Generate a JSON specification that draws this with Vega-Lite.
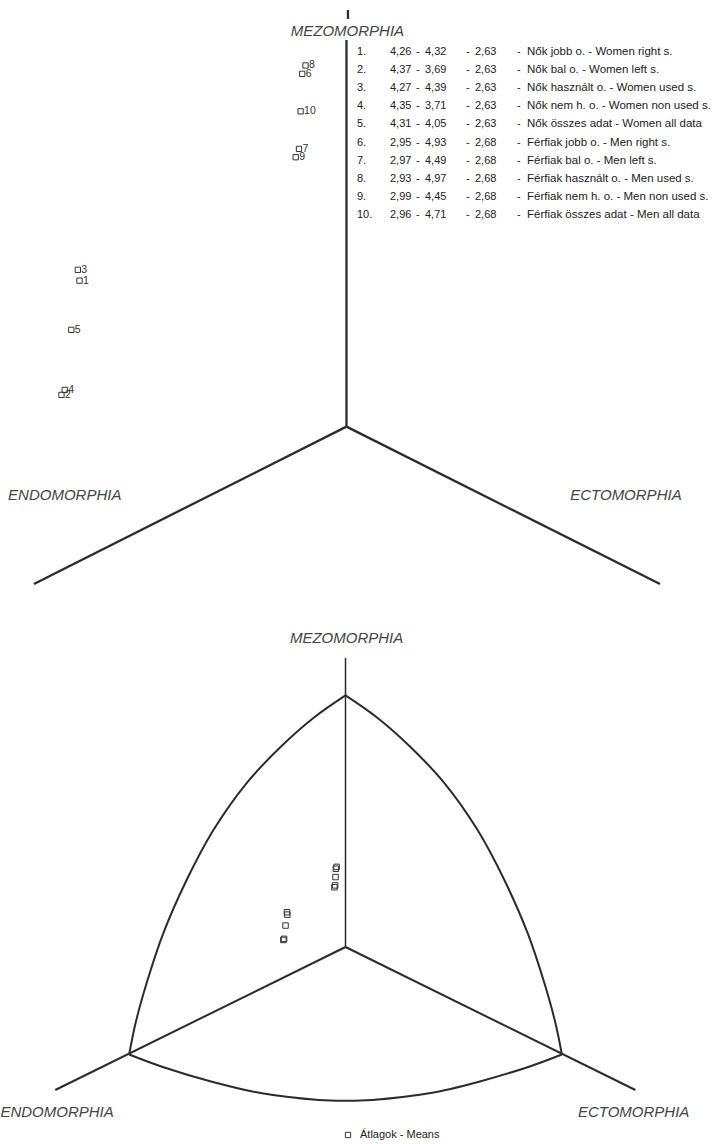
{
  "$schema": "https://vega.github.io/schema/vega-lite/v6.json",
  "padding": 0,
  "spacing": 0,
  "bounds": "flush",
  "config": {
    "view": {"stroke": null},
    "text": {"font": "Liberation Sans"},
    "locale": {"number": {"decimal": ",", "thousands": " ", "grouping": [3], "currency": ["", " Ft"]}}
  },
  "datasets": {
    "soma": [
      {"id": 1, "num": "1.", "endo": 4.26, "meso": 4.32, "ecto": 2.63, "X": -1.63, "Y": 1.75, "label": "Nők jobb o. - Women right s."},
      {"id": 2, "num": "2.", "endo": 4.37, "meso": 3.69, "ecto": 2.63, "X": -1.74, "Y": 0.38, "label": "Nők bal o. - Women left s."},
      {"id": 3, "num": "3.", "endo": 4.27, "meso": 4.39, "ecto": 2.63, "X": -1.64, "Y": 1.88, "label": "Nők használt o. - Women used s."},
      {"id": 4, "num": "4.", "endo": 4.35, "meso": 3.71, "ecto": 2.63, "X": -1.72, "Y": 0.44, "label": "Nők nem h. o. - Women non used s."},
      {"id": 5, "num": "5.", "endo": 4.31, "meso": 4.05, "ecto": 2.63, "X": -1.68, "Y": 1.16, "label": "Nők összes adat - Women all data"},
      {"id": 6, "num": "6.", "endo": 2.95, "meso": 4.93, "ecto": 2.68, "X": -0.27, "Y": 4.23, "label": "Férfiak jobb o. - Men right s."},
      {"id": 7, "num": "7.", "endo": 2.97, "meso": 4.49, "ecto": 2.68, "X": -0.29, "Y": 3.33, "label": "Férfiak bal o. - Men left s."},
      {"id": 8, "num": "8.", "endo": 2.93, "meso": 4.97, "ecto": 2.68, "X": -0.25, "Y": 4.33, "label": "Férfiak használt o. - Men used s."},
      {"id": 9, "num": "9.", "endo": 2.99, "meso": 4.45, "ecto": 2.68, "X": -0.31, "Y": 3.23, "label": "Férfiak nem h. o. - Men non used s."},
      {"id": 10, "num": "10.", "endo": 2.96, "meso": 4.71, "ecto": 2.68, "X": -0.28, "Y": 3.78, "label": "Férfiak összes adat - Men all data"}
    ],
    "topFrame": [
      {"x": 0, "y": 0, "x2": 0, "y2": 4.635},
      {"x": 0, "y": 0, "x2": -1.908, "y2": -1.887},
      {"x": 0, "y": 0, "x2": 1.914, "y2": -1.887},
      {"x": 0.009, "y": 4.887, "x2": 0.009, "y2": 4.995}
    ],
    "topLabels": [
      {"text": "MEZOMORPHIA", "X": 0.006, "Y": 4.743},
      {"text": "ENDOMORPHIA", "X": -1.72, "Y": -0.82},
      {"text": "ECTOMORPHIA", "X": 1.706, "Y": -0.82}
    ],
    "bottomVertical": [
      {"x": 0, "y": 0, "x2": 0, "y2": 15.62}
    ],
    "bottomArms": [
      {"x": 0, "y": 0, "x2": -8.13, "y2": -7.73},
      {"x": 0, "y": 0, "x2": 8.12, "y2": -7.73}
    ],
    "arcs": [
      {"arc": "left", "i": 0, "X": 0, "Y": 13.6},
      {"arc": "left", "i": 1, "X": -0.9, "Y": 12.38},
      {"arc": "left", "i": 2, "X": -1.82, "Y": 10.81},
      {"arc": "left", "i": 3, "X": -2.77, "Y": 8.86},
      {"arc": "left", "i": 4, "X": -3.7, "Y": 6.32},
      {"arc": "left", "i": 5, "X": -4.45, "Y": 3.62},
      {"arc": "left", "i": 6, "X": -5.1, "Y": 0.76},
      {"arc": "left", "i": 7, "X": -5.57, "Y": -1.95},
      {"arc": "left", "i": 8, "X": -5.88, "Y": -4.11},
      {"arc": "left", "i": 9, "X": -6.06, "Y": -5.81},
      {"arc": "right", "i": 0, "X": 0, "Y": 13.6},
      {"arc": "right", "i": 1, "X": 0.9, "Y": 12.38},
      {"arc": "right", "i": 2, "X": 1.82, "Y": 10.81},
      {"arc": "right", "i": 3, "X": 2.77, "Y": 8.86},
      {"arc": "right", "i": 4, "X": 3.7, "Y": 6.32},
      {"arc": "right", "i": 5, "X": 4.45, "Y": 3.62},
      {"arc": "right", "i": 6, "X": 5.1, "Y": 0.76},
      {"arc": "right", "i": 7, "X": 5.57, "Y": -1.95},
      {"arc": "right", "i": 8, "X": 5.88, "Y": -4.11},
      {"arc": "right", "i": 9, "X": 6.06, "Y": -5.81},
      {"arc": "bottom", "i": 0, "X": -6.06, "Y": -5.81},
      {"arc": "bottom", "i": 1, "X": -5.14, "Y": -6.47},
      {"arc": "bottom", "i": 2, "X": -3.74, "Y": -7.28},
      {"arc": "bottom", "i": 3, "X": -2.34, "Y": -7.91},
      {"arc": "bottom", "i": 4, "X": -0.75, "Y": -8.27},
      {"arc": "bottom", "i": 5, "X": 0, "Y": -8.31},
      {"arc": "bottom", "i": 6, "X": 0.75, "Y": -8.27},
      {"arc": "bottom", "i": 7, "X": 2.34, "Y": -7.91},
      {"arc": "bottom", "i": 8, "X": 3.74, "Y": -7.28},
      {"arc": "bottom", "i": 9, "X": 5.14, "Y": -6.47},
      {"arc": "bottom", "i": 10, "X": 6.06, "Y": -5.81}
    ],
    "bottomLabels": [
      {"text": "MEZOMORPHIA", "X": 0.03, "Y": 16.7},
      {"text": "ENDOMORPHIA", "X": -8.08, "Y": -8.92},
      {"text": "ECTOMORPHIA", "X": 8.07, "Y": -8.92}
    ],
    "bottomLegend": [
      {"text": "Átlagok - Means", "X": 0.07, "Y": -10.16}
    ]
  },
  "vconcat": [
    {
      "width": 725,
      "height": 600,
      "resolve": {"scale": {"y": "independent"}},
      "layer": [
        {
          "layer": [
            {
              "data": {"name": "topFrame"},
              "mark": {"type": "rule", "strokeWidth": 2.3, "color": "#2b2b2b"},
              "encoding": {
                "x": {"field": "x", "type": "quantitative", "scale": {"domain": [-2.103, 2.323], "nice": false, "zero": false}, "axis": null},
                "x2": {"field": "x2"},
                "y": {"field": "y", "type": "quantitative", "scale": {"domain": [-2.079, 5.115], "nice": false, "zero": false}, "axis": null},
                "y2": {"field": "y2"}
              }
            },
            {
              "data": {"name": "soma"},
              "mark": {"type": "point", "shape": "square", "filled": false, "size": 28, "strokeWidth": 1, "color": "#333333", "opacity": 1},
              "encoding": {
                "x": {"field": "X", "type": "quantitative", "scale": {"domain": [-2.103, 2.323], "nice": false, "zero": false}, "axis": null},
                "y": {"field": "Y", "type": "quantitative", "scale": {"domain": [-2.079, 5.115], "nice": false, "zero": false}, "axis": null}
              }
            },
            {
              "data": {"name": "soma"},
              "mark": {"type": "text", "align": "left", "baseline": "middle", "dx": 3.5, "fontSize": 10.5, "color": "#333333"},
              "encoding": {
                "x": {"field": "X", "type": "quantitative", "scale": {"domain": [-2.103, 2.323], "nice": false, "zero": false}, "axis": null},
                "y": {"field": "Y", "type": "quantitative", "scale": {"domain": [-2.079, 5.115], "nice": false, "zero": false}, "axis": null},
                "text": {"field": "id", "type": "nominal"}
              }
            },
            {
              "data": {"name": "topLabels"},
              "mark": {"type": "text", "align": "center", "baseline": "middle", "fontSize": 15, "fontStyle": "italic", "color": "#444444"},
              "encoding": {
                "x": {"field": "X", "type": "quantitative", "scale": {"domain": [-2.103, 2.323], "nice": false, "zero": false}, "axis": null},
                "y": {"field": "Y", "type": "quantitative", "scale": {"domain": [-2.079, 5.115], "nice": false, "zero": false}, "axis": null},
                "text": {"field": "text", "type": "nominal"}
              }
            }
          ]
        },
        {
          "data": {"name": "soma"},
          "encoding": {
            "y": {"field": "id", "type": "quantitative", "scale": {"domain": [1, 10], "range": [52, 215], "nice": false, "zero": false}, "axis": null}
          },
          "layer": [
            {
              "mark": {"type": "text", "align": "left", "baseline": "middle", "fontSize": 11, "color": "#222222"},
              "encoding": {
                "x": {"datum": 0.0641, "type": "quantitative", "scale": {"domain": [-2.103, 2.323], "nice": false, "zero": false}, "axis": null},
                "text": {"field": "num", "type": "nominal"}
              }
            },
            {
              "mark": {"type": "text", "align": "left", "baseline": "middle", "fontSize": 11, "color": "#222222"},
              "encoding": {
                "x": {"datum": 0.2656, "type": "quantitative", "scale": {"domain": [-2.103, 2.323], "nice": false, "zero": false}, "axis": null},
                "text": {"field": "endo", "type": "quantitative", "format": ".2f"}
              }
            },
            {
              "mark": {"type": "text", "align": "left", "baseline": "middle", "fontSize": 11, "color": "#222222"},
              "encoding": {
                "x": {"datum": 0.4243, "type": "quantitative", "scale": {"domain": [-2.103, 2.323], "nice": false, "zero": false}, "axis": null},
                "text": {"value": "-"}
              }
            },
            {
              "mark": {"type": "text", "align": "left", "baseline": "middle", "fontSize": 11, "color": "#222222"},
              "encoding": {
                "x": {"datum": 0.4792, "type": "quantitative", "scale": {"domain": [-2.103, 2.323], "nice": false, "zero": false}, "axis": null},
                "text": {"field": "meso", "type": "quantitative", "format": ".2f"}
              }
            },
            {
              "mark": {"type": "text", "align": "left", "baseline": "middle", "fontSize": 11, "color": "#222222"},
              "encoding": {
                "x": {"datum": 0.7295, "type": "quantitative", "scale": {"domain": [-2.103, 2.323], "nice": false, "zero": false}, "axis": null},
                "text": {"value": "-"}
              }
            },
            {
              "mark": {"type": "text", "align": "left", "baseline": "middle", "fontSize": 11, "color": "#222222"},
              "encoding": {
                "x": {"datum": 0.7845, "type": "quantitative", "scale": {"domain": [-2.103, 2.323], "nice": false, "zero": false}, "axis": null},
                "text": {"field": "ecto", "type": "quantitative", "format": ".2f"}
              }
            },
            {
              "mark": {"type": "text", "align": "left", "baseline": "middle", "fontSize": 11, "color": "#222222"},
              "encoding": {
                "x": {"datum": 1.0409, "type": "quantitative", "scale": {"domain": [-2.103, 2.323], "nice": false, "zero": false}, "axis": null},
                "text": {"value": "-"}
              }
            },
            {
              "mark": {"type": "text", "align": "left", "baseline": "middle", "fontSize": 11.5, "color": "#222222"},
              "encoding": {
                "x": {"datum": 1.102, "type": "quantitative", "scale": {"domain": [-2.103, 2.323], "nice": false, "zero": false}, "axis": null},
                "text": {"field": "label", "type": "nominal"}
              }
            }
          ]
        }
      ]
    },
    {
      "width": 725,
      "height": 544,
      "layer": [
        {
          "data": {"name": "arcs"},
          "mark": {"type": "line", "interpolate": "catmull-rom", "strokeWidth": 2, "color": "#2b2b2b"},
          "encoding": {
            "x": {"field": "X", "type": "quantitative", "scale": {"domain": [-9.622, 10.686], "nice": false, "zero": false}, "axis": null},
            "y": {"field": "Y", "type": "quantitative", "scale": {"domain": [-10.649, 18.757], "nice": false, "zero": false}, "axis": null},
            "detail": {"field": "arc", "type": "nominal"},
            "order": {"field": "i", "type": "quantitative"}
          }
        },
        {
          "data": {"name": "bottomVertical"},
          "mark": {"type": "rule", "strokeWidth": 1.5, "color": "#2b2b2b"},
          "encoding": {
            "x": {"field": "x", "type": "quantitative", "scale": {"domain": [-9.622, 10.686], "nice": false, "zero": false}, "axis": null},
            "x2": {"field": "x2"},
            "y": {"field": "y", "type": "quantitative", "scale": {"domain": [-10.649, 18.757], "nice": false, "zero": false}, "axis": null},
            "y2": {"field": "y2"}
          }
        },
        {
          "data": {"name": "bottomArms"},
          "mark": {"type": "rule", "strokeWidth": 2, "color": "#2b2b2b"},
          "encoding": {
            "x": {"field": "x", "type": "quantitative", "scale": {"domain": [-9.622, 10.686], "nice": false, "zero": false}, "axis": null},
            "x2": {"field": "x2"},
            "y": {"field": "y", "type": "quantitative", "scale": {"domain": [-10.649, 18.757], "nice": false, "zero": false}, "axis": null},
            "y2": {"field": "y2"}
          }
        },
        {
          "data": {"name": "soma"},
          "mark": {"type": "point", "shape": "square", "filled": false, "size": 30, "strokeWidth": 1, "color": "#333333", "opacity": 1},
          "encoding": {
            "x": {"field": "X", "type": "quantitative", "scale": {"domain": [-9.622, 10.686], "nice": false, "zero": false}, "axis": null},
            "y": {"field": "Y", "type": "quantitative", "scale": {"domain": [-10.649, 18.757], "nice": false, "zero": false}, "axis": null}
          }
        },
        {
          "data": {"name": "bottomLabels"},
          "mark": {"type": "text", "align": "center", "baseline": "middle", "fontSize": 15, "fontStyle": "italic", "color": "#444444"},
          "encoding": {
            "x": {"field": "X", "type": "quantitative", "scale": {"domain": [-9.622, 10.686], "nice": false, "zero": false}, "axis": null},
            "y": {"field": "Y", "type": "quantitative", "scale": {"domain": [-10.649, 18.757], "nice": false, "zero": false}, "axis": null},
            "text": {"field": "text", "type": "nominal"}
          }
        },
        {
          "data": {"name": "bottomLegend"},
          "mark": {"type": "point", "shape": "square", "filled": false, "size": 28, "strokeWidth": 1, "color": "#333333", "opacity": 1},
          "encoding": {
            "x": {"field": "X", "type": "quantitative", "scale": {"domain": [-9.622, 10.686], "nice": false, "zero": false}, "axis": null},
            "y": {"field": "Y", "type": "quantitative", "scale": {"domain": [-10.649, 18.757], "nice": false, "zero": false}, "axis": null}
          }
        },
        {
          "data": {"name": "bottomLegend"},
          "mark": {"type": "text", "align": "left", "baseline": "middle", "dx": 12, "fontSize": 11, "color": "#222222"},
          "encoding": {
            "x": {"field": "X", "type": "quantitative", "scale": {"domain": [-9.622, 10.686], "nice": false, "zero": false}, "axis": null},
            "y": {"field": "Y", "type": "quantitative", "scale": {"domain": [-10.649, 18.757], "nice": false, "zero": false}, "axis": null},
            "text": {"field": "text", "type": "nominal"}
          }
        }
      ]
    }
  ]
}
